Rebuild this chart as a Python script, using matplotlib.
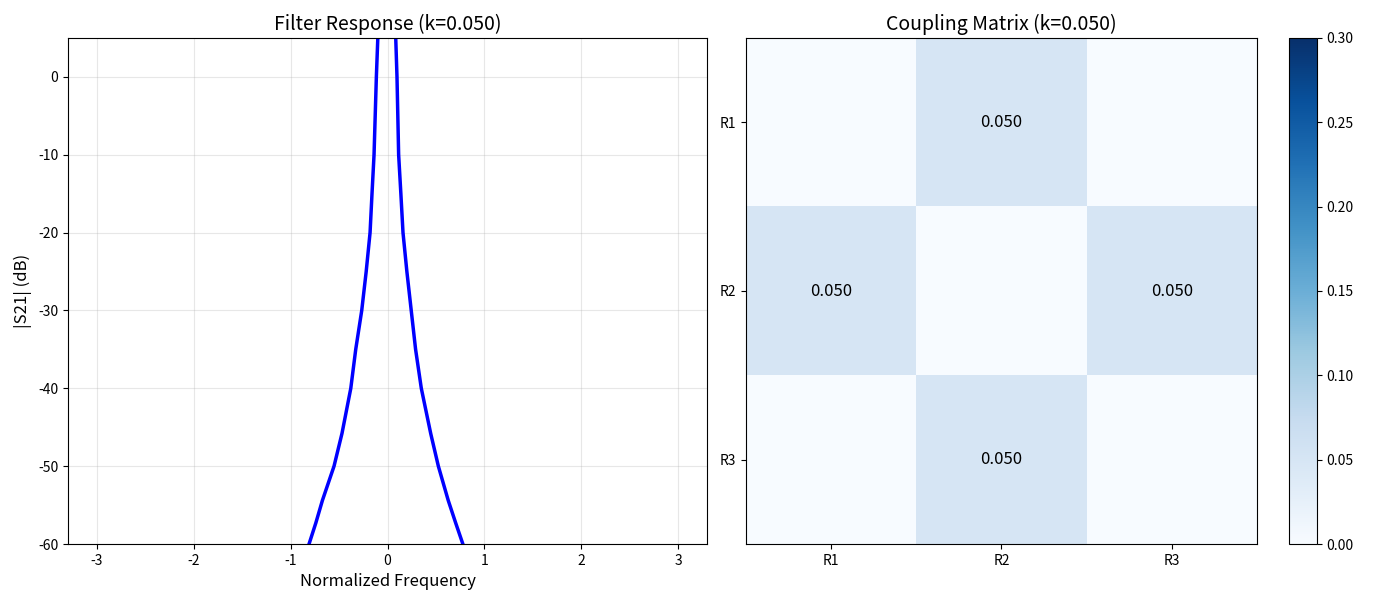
import matplotlib
matplotlib.use("Agg")
import matplotlib.pyplot as plt
import numpy as np

plt.rcParams['font.family'] = ['Noto Sans CJK SC', 'DejaVu Sans']
plt.rcParams['axes.unicode_minus'] = False

# Filter response (normalized frequency, dB)
freq = [-3.3, -1.0, -0.81, -0.74, -0.672, -0.552, -0.47, -0.379, -0.328, -0.266, -0.22, -0.18,
        -0.16, -0.139, -0.115, -0.10,
        -0.01,
        0.085, 0.098, 0.115, 0.138, 0.16, 0.20, 0.245, 0.29, 0.349, 0.446, 0.525, 0.627, 0.704,
        0.778, 1.0, 3.3]
s21_db = [-120, -68, -60, -57.3, -54.4, -50, -45.8, -40, -35, -30, -25, -20,
          -15, -10, 0, 5,
          30,
          5, 0, -10, -15, -20, -25, -30, -35, -40, -45.8, -50, -54.4, -57.3,
          -60, -68, -120]

# Coupling matrix
resonators = ['R1', 'R2', 'R3']
coupling = [[0.0, 0.05, 0.0],
            [0.05, 0.0, 0.05],
            [0.0, 0.05, 0.0]]
k = 0.05

fig = plt.figure(figsize=(14, 6), dpi=100)
W, H = 1400.0, 600.0
ax1 = fig.add_axes([68 / W, 1 - 544 / H, (707 - 68) / W, (544 - 38) / H])
ax2 = fig.add_axes([746 / W, 1 - 544 / H, (1257 - 746) / W, (544 - 38) / H])
cax = fig.add_axes([1289 / W, 1 - 544 / H, (1317 - 1289) / W, (544 - 38) / H])

ax1.plot(freq, s21_db, color='blue', linewidth=2.5)
ax1.set_xlim(-np.pi * 1.05, np.pi * 1.05)
ax1.set_ylim(-60, 5)
ax1.grid(True, alpha=0.3)
ax1.set_xlabel('Normalized Frequency', fontsize=12)
ax1.set_ylabel('|S21| (dB)', fontsize=12)
ax1.set_title(f'Filter Response (k={k:.3f})', fontsize=14)

M = np.array(coupling)
im = ax2.imshow(M, cmap='Blues', vmin=0, vmax=0.3, aspect='auto')
ax2.set_xticks(range(len(resonators)))
ax2.set_yticks(range(len(resonators)))
ax2.set_xticklabels(resonators)
ax2.set_yticklabels(resonators)
for i in range(M.shape[0]):
    for j in range(M.shape[1]):
        if M[i, j] != 0:
            ax2.text(j, i, f'{M[i, j]:.3f}', ha='center', va='center', fontsize=12, color='black')
ax2.set_title(f'Coupling Matrix (k={k:.3f})', fontsize=14)
fig.colorbar(im, cax=cax)

plt.savefig('out.png', dpi=100)
